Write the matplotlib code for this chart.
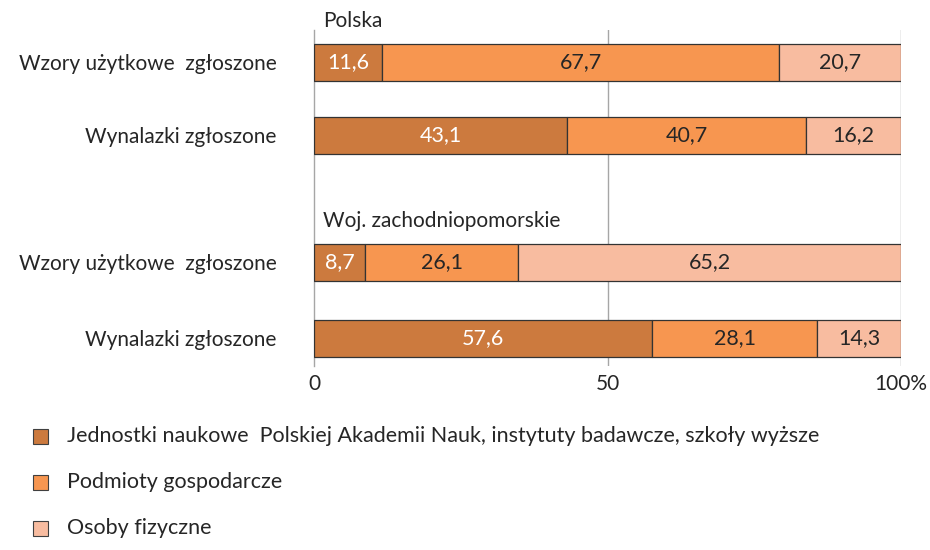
import matplotlib
matplotlib.use("Agg")
import matplotlib.pyplot as plt
from matplotlib.patches import Rectangle

matplotlib.rcParams['font.family'] = ['Lato', 'DejaVu Sans']
matplotlib.rcParams['font.size'] = 13

# data
categories = ["Wzory użytkowe  zgłoszone", "Wynalazki zgłoszone",
              "Wzory użytkowe  zgłoszone", "Wynalazki zgłoszone"]
groups = ["Polska", "Woj. zachodniopomorskie"]
series_names = ["Jednostki naukowe  Polskiej Akademii Nauk, instytuty badawcze, szkoły wyższe",
                "Podmioty gospodarcze",
                "Osoby fizyczne"]
jednostki = [11.6, 43.1, 8.7, 57.6]
podmioty = [67.7, 40.7, 26.1, 28.1]
osoby = [20.7, 16.2, 65.2, 14.3]
tick_vals = [0, 50, 100]
tick_labels = ["0", "50", "100%"]

colors = ["#CC7A3E", "#F79650", "#F8BCA0"]
text_colors = ["white", "#262626", "#262626"]

W, H = 930, 550
fig = plt.figure(figsize=(W / 100, H / 100), dpi=100)
# axes in pixel box: left 314, right 901, top 30, bottom 366
ax = fig.add_axes([314 / W, 1 - 366 / H, (901 - 314) / W, (366 - 30) / H])

ypos = [0, 1, 2.74, 3.78]
bar_h = 0.51

left = [0.0] * 4
for s, vals in enumerate([jednostki, podmioty, osoby]):
    ax.barh(ypos, vals, left=left, height=bar_h, color=colors[s],
            edgecolor="#333333", linewidth=0.9, zorder=3)
    for i, v in enumerate(vals):
        ax.text(left[i] + v / 2, ypos[i], ("%.1f" % v).replace(".", ","),
                ha="center", va="center", color=text_colors[s], fontsize=15.5, zorder=4)
    left = [l + v for l, v in zip(left, vals)]

ax.set_xlim(0, 100)
ax.set_ylim(4.16, -0.44)
ax.set_yticks(ypos)
ax.set_yticklabels(categories, fontsize=15, color="#262626")
ax.tick_params(axis="y", length=0, pad=27)
ax.set_xticks(tick_vals)
ax.set_xticklabels(tick_labels, fontsize=15, color="#262626")
ax.tick_params(axis="x", length=0, pad=6)

for sp in ["top", "right", "bottom"]:
    ax.spines[sp].set_visible(False)
ax.spines["left"].set_color("#A6A6A6")
ax.spines["left"].set_linewidth(1.0)
for x in [50, 100]:
    ax.axvline(x, color="#A6A6A6", linewidth=1.0, zorder=1)

# group labels
ax.text(1.5, -0.57, groups[0], ha="left", va="center", fontsize=15, color="#262626")
ax.text(1.5, 2.17, groups[1], ha="left", va="center", fontsize=15, color="#262626",
        bbox=dict(facecolor="white", edgecolor="none", pad=1))

# legend
for k, name in enumerate(series_names):
    yc = 436 + k * 46
    fig.patches.append(Rectangle((33 / W, 1 - (yc + 8) / H), 15 / W, 15 / H,
                                 transform=fig.transFigure, facecolor=colors[k],
                                 edgecolor="#404040", linewidth=0.8))
    fig.text(67 / W, 1 - yc / H, name, ha="left", va="center",
             fontsize=15.5, color="#262626")

fig.savefig("out.png", dpi=100)
